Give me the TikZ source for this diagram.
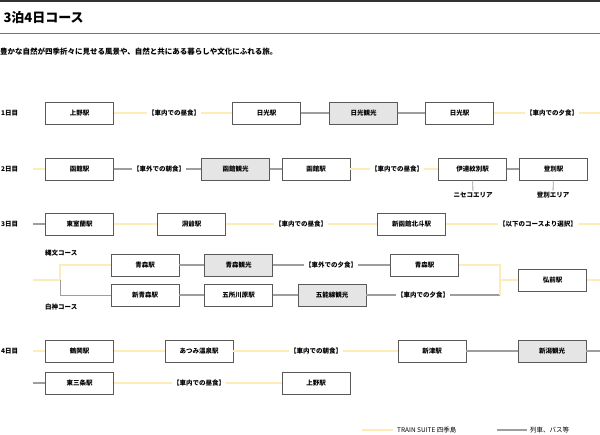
\documentclass[tikz,border=0pt]{standalone}
\usepackage{fontspec}
\setmainfont{Noto Sans CJK JP}
\begin{document}
\begin{tikzpicture}[x=1pt,y=-1pt,
 bx/.style={draw=black!65,line width=0.6pt,fill=white,minimum width=68pt,minimum height=22pt,inner sep=0pt,font=\fontsize{6.5}{7}\selectfont\bfseries},
 gbx/.style={bx,fill=black!10},
 lb/.style={inner sep=1pt,font=\fontsize{6.5}{7}\selectfont\bfseries},
 yl/.style={draw=yellow!45!orange!25!white,line width=1.2pt},
 gl/.style={draw=black!38,line width=1.2pt}]
\useasboundingbox (0,0) rectangle (600,435);
\draw[line width=1.8pt,black!80] (0,1) -- (600,1);
\node[anchor=west,font=\fontsize{13}{14}\selectfont\bfseries] (title) at (0,18) {3泊4日コース};
\draw[line width=1pt,black!55] (0,33.5) -- (600,33.5);
\node[anchor=west,inner sep=0pt,font=\fontsize{7.5}{8}\selectfont\bfseries] (sub) at (0,52) {豊かな自然が四季折々に見せる風景や、自然と共にある暮らしや文化にふれる旅。};
% day 1
\node[lb,anchor=west] (d1) at (0,113) {1日目};
\node[bx] (a1) at (79.5,113) {上野駅};
\node[lb] (a2) at (174,113) {【車内での昼食】};
\node[bx] (a3) at (266.5,113) {日光駅};
\node[gbx] (a4) at (363.5,113) {日光観光};
\node[bx] (a5) at (459.5,113) {日光駅};
\node[lb] (a6) at (552,113) {【車内での夕食】};
\coordinate (a7) at (600,113);
\draw[yl] (a1) -- (a2); \draw[yl] (a2) -- (a3); \draw[gl] (a3) -- (a4); \draw[gl] (a4) -- (a5);
\draw[yl] (a5) -- (a6); \draw[yl] (a6) -- (a7);
% day 2
\node[lb,anchor=west] (d2) at (0,169) {2日目};
\coordinate (b0) at (33,169);
\node[bx] (b1) at (79.5,169) {函館駅};
\node[lb] (b2) at (159,169) {【車外での朝食】};
\node[gbx] (b3) at (235.5,169) {函館観光};
\node[bx] (b4) at (316,169) {函館駅};
\node[lb] (b5) at (397,169) {【車内での昼食】};
\node[bx] (b6) at (472.5,169) {伊達紋別駅};
\node[bx] (b7) at (553.5,169) {登別駅};
\node[lb] (b8) at (473,195) {ニセコエリア};
\node[lb] (b9) at (553,195) {登別エリア};
\draw[yl] (b0) -- (b1); \draw[gl] (b1) -- (b2); \draw[gl] (b2) -- (b3); \draw[gl] (b3) -- (b4);
\draw[yl] (b4) -- (b5); \draw[yl] (b5) -- (b6); \draw[gl] (b6) -- (b7);
\draw[gl,line width=0.8pt] (b6) -- (b8); \draw[gl,line width=0.8pt] (b7) -- (b9);
% day 3
\node[lb,anchor=west] (d3) at (0,224) {3日目};
\coordinate (c0) at (33,224);
\node[bx] (c1) at (79.5,224) {東室蘭駅};
\node[bx] (c2) at (191.5,224) {洞爺駅};
\node[lb] (c3) at (301,224) {【車内での昼食】};
\node[bx] (c4) at (411.5,224) {新函館北斗駅};
\node[lb] (c5) at (538,224) {【以下のコースより選択】};
\coordinate (c6) at (600,224);
\draw[gl] (c0) -- (c1); \draw[yl] (c1) -- (c2); \draw[yl] (c2) -- (c3); \draw[yl] (c3) -- (c4);
\draw[yl] (c4) -- (c5); \draw[yl] (c5) -- (c6);
% branches
\node[lb,anchor=west] (jl) at (44,253) {縄文コース};
\node[lb,anchor=west] (sl) at (44,307) {白神コース};
\coordinate (e0) at (33,280);
\coordinate (e1) at (60,280);
\coordinate (e2) at (60,265);
\coordinate (e3) at (60,295);
\node[bx] (u1) at (145,265) {青森駅};
\node[gbx] (u2) at (238.5,265) {青森観光};
\node[lb] (u3) at (331,265) {【車外での夕食】};
\node[bx] (u4) at (424.5,265) {青森駅};
\coordinate (u5) at (500,265);
\node[bx] (l1) at (145,295) {新青森駅};
\node[bx] (l2) at (238.5,295) {五所川原駅};
\node[gbx] (l3) at (332,295) {五能線観光};
\node[lb] (l4) at (423,295) {【車内での夕食】};
\coordinate (l5) at (500,295);
\coordinate (h0) at (500,280);
\node[bx] (h1) at (552.5,280) {弘前駅};
\coordinate (h2) at (600,280);
\draw[yl] (e0) -- (e1); \draw[yl] (e1) -- (e2) -- (u1);
\draw[gl,line width=0.8pt] (e1) -- (e3) -- (l1);
\draw[gl] (u1) -- (u2); \draw[gl] (u2) -- (u3); \draw[gl] (u3) -- (u4);
\draw[yl] (u4) -- (u5) -- (h0);
\draw[gl] (l1) -- (l2); \draw[gl] (l2) -- (l3); \draw[gl] (l3) -- (l4); \draw[gl] (l4) -- (l5);
\draw[yl] (l5) -- (h0); \draw[yl] (h0) -- (h1); \draw[yl] (h1) -- (h2);
% day 4
\node[lb,anchor=west] (d4) at (0,351) {4日目};
\coordinate (f0) at (33,351);
\node[bx] (f1) at (79.5,351) {鶴岡駅};
\node[bx] (f2) at (199,351) {あつみ温泉駅};
\node[lb] (f3) at (316,351) {【車内での朝食】};
\node[bx] (f4) at (432,351) {新津駅};
\node[gbx] (f5) at (552,351) {新潟観光};
\coordinate (f6) at (600,351);
\draw[yl] (f0) -- (f1); \draw[yl] (f1) -- (f2); \draw[yl] (f2) -- (f3); \draw[yl] (f3) -- (f4);
\draw[gl] (f4) -- (f5); \draw[gl] (f5) -- (f6);
\coordinate (g0) at (33,383);
\node[bx] (g1) at (79.5,383) {東三条駅};
\node[lb] (g2) at (199,383) {【車内での昼食】};
\node[bx] (g3) at (316,383) {上野駅};
\draw[gl] (g0) -- (g1); \draw[yl] (g1) -- (g2); \draw[yl] (g2) -- (g3);
% legend
\coordinate (k1) at (362,430); \coordinate (k2) at (393,430);
\node[lb,anchor=west,font=\fontsize{6.5}{7}\selectfont] (k3) at (396,430) {TRAIN SUITE 四季島};
\coordinate (k4) at (497,430); \coordinate (k5) at (527,430);
\node[lb,anchor=west,font=\fontsize{6.5}{7}\selectfont] (k6) at (529,430) {列車、バス等};
\draw[yl] (k1) -- (k2); \draw[gl] (k4) -- (k5);
\end{tikzpicture}
\end{document}
